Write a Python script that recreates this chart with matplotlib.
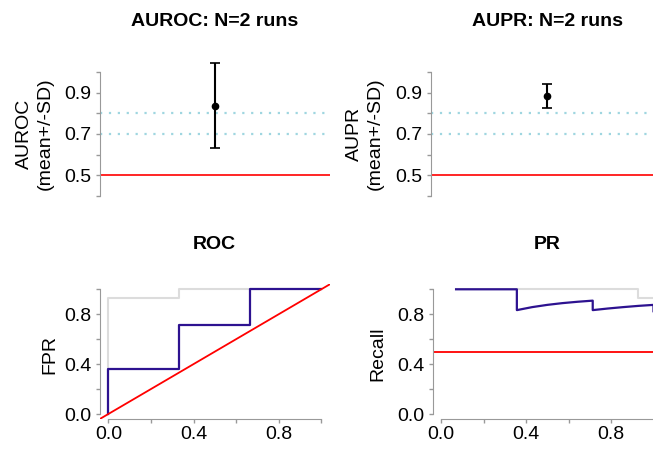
import matplotlib
matplotlib.use("Agg")
import matplotlib.pyplot as plt

plt.rcParams['font.family'] = ['Liberation Sans', 'DejaVu Sans']

# ---- data ----
auroc_mean, auroc_sd = 0.837, 0.205
aupr_mean, aupr_sd = 0.886, 0.058
ref_levels = [0.7, 0.8]
baseline = 0.5

roc_fpr = [0.0, 0.0, 0.333, 0.333, 0.667, 0.667, 1.0]
roc_tpr = [0.0, 0.357, 0.357, 0.714, 0.714, 1.0, 1.0]
roc2_fpr = [0.0, 0.0, 0.333, 0.333, 1.0]
roc2_tpr = [0.0, 0.929, 0.929, 1.0, 1.0]

pr_recall = [0.071, 0.143, 0.214, 0.286, 0.357, 0.357, 0.429, 0.5, 0.571,
             0.643, 0.714, 0.714, 0.786, 0.857, 0.929, 1.0, 1.0]
pr_precision = [1.0, 1.0, 1.0, 1.0, 1.0, 0.833, 0.857, 0.875, 0.889,
                0.9, 0.909, 0.833, 0.846, 0.857, 0.867, 0.875, 0.824]
pr2_recall = [0.071, 0.929, 0.929, 1.0]
pr2_precision = [1.0, 1.0, 0.929, 0.929]

top_ticks = [0.4, 0.5, 0.6, 0.7, 0.8, 0.9, 1.0]
top_labels = ['', '0.5', '', '0.7', '', '0.9', '']
bot_ticks = [0.0, 0.2, 0.4, 0.6, 0.8, 1.0]
bot_labels = ['0.0', '', '0.4', '', '0.8', '']

# ---- layout ----
W, H = 653, 449
fig = plt.figure(figsize=(W / 100, H / 100), dpi=100)

def ax_px(x0, x1, ytop, ybot):
    return fig.add_axes([x0 / W, 1 - ybot / H, (x1 - x0) / W, (ybot - ytop) / H])

AX = '#999999'
BLUE = '#2d1290'
FS = 14

def style(ax, bottom=False):
    for s in ['top', 'right']:
        ax.spines[s].set_visible(False)
    ax.spines['left'].set_color(AX)
    ax.spines['bottom'].set_color(AX)
    if not bottom:
        ax.spines['bottom'].set_visible(False)
        ax.set_xticks([])
    ax.tick_params(axis='both', colors=AX, labelcolor='black', labelsize=FS,
                   length=3, width=1, pad=3)

def top_panel(x0, x1, mean, sd, title, label, lx):
    ax = ax_px(x0, x1, 67, 201)
    style(ax)
    ax.set_xlim(0, 2)
    ax.set_ylim(0.376, 1.024)
    ax.spines['left'].set_bounds(0.4, 1.0)
    ax.set_yticks(top_ticks, labels=top_labels)
    for lv in ref_levels:
        ax.axhline(lv, color='#9fd6e0', ls=(0, (1, 3)), lw=1.6, zorder=1)
    ax.axhline(baseline, color='red', lw=1.2, zorder=1)
    eb = ax.errorbar([1], [mean], yerr=[sd], fmt='o', color='black', ms=4.5,
                     capsize=3.5, elinewidth=1.5, capthick=1.2, zorder=3)
    for art in eb.get_children():
        art.set_clip_on(False)
    fig.text((x0 + x1) / 2 / W, 1 - 22 / H, title, ha='center', va='center',
             fontsize=FS, fontweight='bold')
    fig.text(lx / W, 1 - 134 / H, label, ha='center', va='center', rotation=90,
             fontsize=FS, linespacing=1.25)
    return ax

top_panel(100, 330, auroc_mean, auroc_sd, 'AUROC: N=2 runs', 'AUROC\n(mean+/-SD)', 35)
top_panel(431, 663, aupr_mean, aupr_sd, 'AUPR: N=2 runs', 'AUPR\n(mean+/-SD)', 365)

def bottom_panel(x0, x1, title, ylabel, lx):
    ax = ax_px(x0, x1, 284.3, 419)
    style(ax, bottom=True)
    ax.set_xlim(-0.04, 1.04)
    ax.set_ylim(-0.04, 1.04)
    ax.spines['left'].set_bounds(0, 1)
    ax.spines['bottom'].set_bounds(0, 1)
    ax.set_xticks(bot_ticks, labels=bot_labels)
    ax.set_yticks(bot_ticks, labels=bot_labels)
    ax.tick_params(axis='x', pad=2)
    fig.text((x0 + x1) / 2 / W, 1 - 245 / H, title, ha='center', va='center',
             fontsize=FS, fontweight='bold')
    fig.text(lx / W, 1 - 354 / H, ylabel, ha='center', va='center', rotation=90,
             fontsize=FS)
    return ax

ax3 = bottom_panel(99.8, 329.8, 'ROC', 'FPR', 50)
ax3.plot(roc2_fpr, roc2_tpr, color='#dcdcdc', lw=1.5)
ax3.plot(roc_fpr, roc_tpr, color=BLUE, lw=1.6)
ax3.axline((0, 0), slope=1, color='red', lw=1.3)

ax4 = bottom_panel(432.5, 662, 'PR', 'Recall', 378)
ax4.plot(pr2_recall, pr2_precision, color='#dcdcdc', lw=1.5)
ax4.plot(pr_recall, pr_precision, color=BLUE, lw=1.6)
ax4.axhline(baseline, color='red', lw=1.3)

fig.savefig('out.png', dpi=100)
